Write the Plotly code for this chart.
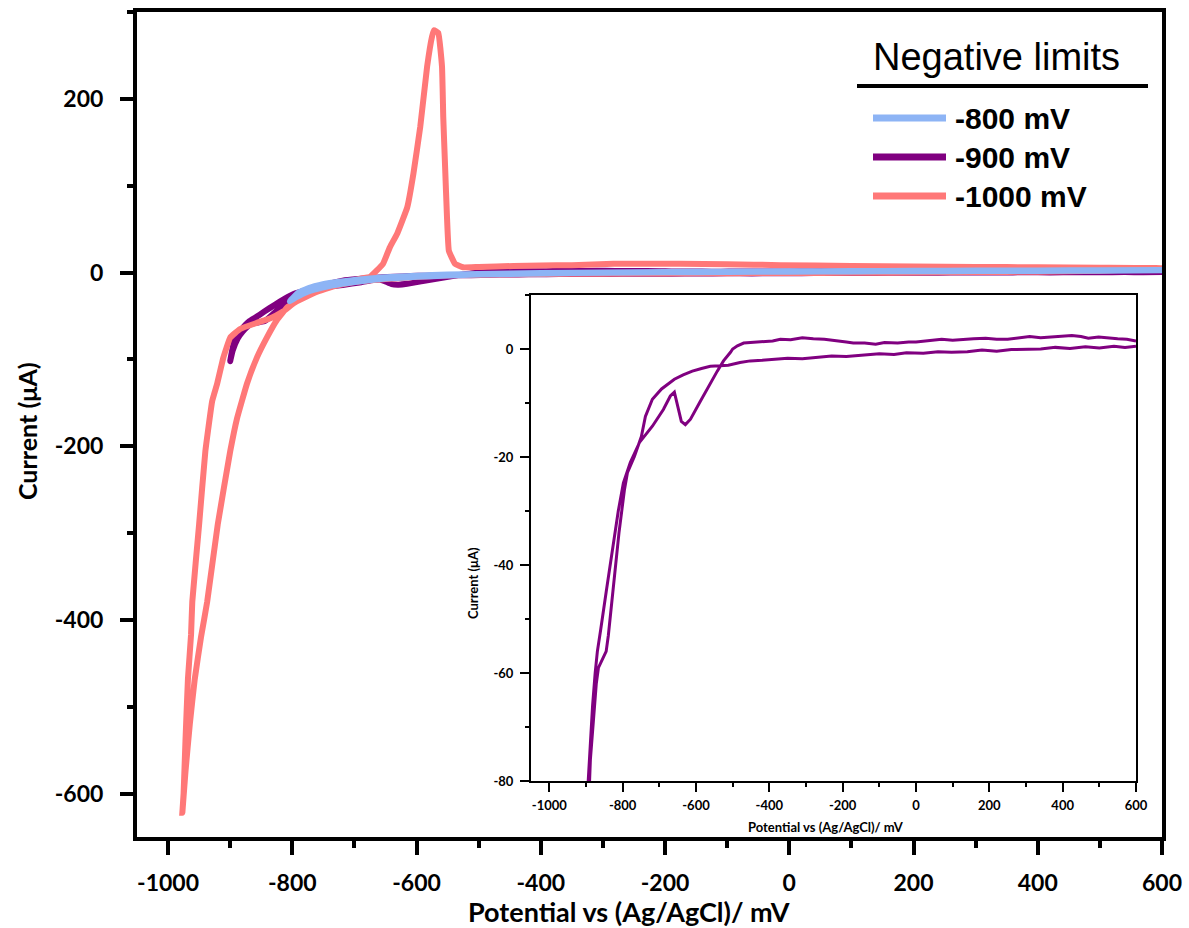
import plotly.graph_objects as go

# ---------------- data ----------------
names = ["-800 mV", "-900 mV", "-1000 mV"]
colors = ["#8DB4F5", "#800080", "#FF7878"]

# -800 mV negative limit
v800 = [600, 500, 400, 300, 200, 100, 0, -100, -200, -300, -400, -450, -500, -550, -600,
        -650, -700, -740, -770, -790, -804, -795, -775, -750, -720, -690, -650, -600, -550,
        -500, -450, -400, -300, -200, -100, 0, 100, 200, 300, 400, 500, 600]
i800 = [2.8, 2.6, 2.4, 2.2, 2.0, 1.7, 1.4, 1.0, 0.6, 0.0, -0.6, -1.0, -1.6, -2.4, -3.6,
        -5.5, -8.5, -12, -17, -23, -33, -29, -22, -17, -13, -10, -7, -5, -3.5,
        -2.4, -1.6, -1.0, -0.3, 0.2, 0.6, 0.9, 1.2, 1.5, 1.7, 1.9, 2.1, 2.4]

# -900 mV negative limit
v900 = [600, 575, 550, 525, 498, 470, 450, 425, 402, 370, 340, 310, 280, 250, 220, 190,
        157, 130, 100, 70, 37, 0, -20, -50, -86, -110, -140, -171, -190, -209, -250, -280,
        -310, -342, -370, -391, -420, -452, -470, -487, -500, -506, -515, -525, -542, -566,
        -590, -615, -629, -640, -651, -659, -670, -689, -719, -754, -779, -798, -812, -828,
        -845, -860, -869, -875, -882, -888, -894, -900,
        -896, -888, -880, -872, -866, -859, -852, -845, -839, -825, -810, -795, -787, -768,
        -749, -738, -719, -694, -675, -659, -635, -610, -585, -561, -535, -512, -480, -452,
        -420, -391, -350, -310, -269, -230, -190, -146, -100, -60, -26, 20, 60, 97, 140,
        180, 220, 260, 300, 340, 380, 420, 462, 500, 540, 570, 600]
i900 = [1.5, 1.8, 1.9, 2.1, 2.2, 2.0, 2.3, 2.5, 2.4, 2.2, 2.1, 2.3, 2.0, 1.8, 1.8, 2.0,
        1.9, 1.7, 1.6, 1.8, 1.5, 1.3, 1.3, 1.1, 1.2, 0.9, 1.1, 1.1, 1.3, 1.5, 1.8, 1.9,
        2.1, 1.7, 1.8, 1.5, 1.4, 1.3, 1.1, 0.6, 0.0, -0.6, -1.3, -2.2, -4.1, -6.9,
        -9.9, -13.0, -14.0, -13.4, -9.9, -8.0, -8.7, -11.2, -14.3, -17.3, -21.0, -24.8, -30, -37,
        -45, -52, -56, -60, -66, -73, -80, -102,
        -90, -76, -68, -62, -59, -58, -57, -56, -53, -44, -34, -26, -22.9, -19.9,
        -16.2, -12.5, -9.3, -7.4, -6.4, -5.6, -4.8, -4.1, -3.6, -3.2, -3.1, -3.0, -2.5, -2.2,
        -2.1, -1.9, -1.7, -1.8, -1.5, -1.3, -1.4, -1.1, -0.9, -1.0, -0.7, -0.8, -0.5, -0.6, -0.5,
        -0.2, -0.4, -0.1, 0.0, 0.0, 0.3, 0.1, 0.4, 0.2, 0.5, 0.3, 0.5]

# -1000 mV negative limit
v1000 = [600, 500, 400, 300, 200, 100, 0, -100, -200, -300, -400, -500, -560, -600, -650,
         -700, -750, -783, -808, -825, -841, -857, -873, -889, -900, -920, -937, -947, -957,
         -965, -972, -977, -975, -972, -968, -963, -961, -950, -940, -929, -921, -911, -900,
         -884, -857, -836, -815, -795, -760, -720, -690, -675, -654, -643, -631, -615, -605,
         -594, -583, -575, -572, -565, -559, -557, -554, -551, -548, -538, -525, -500, -444,
         -400, -350, -283, -230, -176, -100, -14, 100, 200, 300, 400, 500, 600]
i1000 = [5, 2, 1, 0.5, 0, -0.3, -0.5, -0.8, -1, -1.3, -1.7, -2.5, -3.5, -5, -7.5,
         -11, -18, -29, -40, -55, -75, -98, -128, -168, -206, -290, -379, -420, -468,
         -520, -575, -622, -600, -540, -468, -417, -379, -290, -206, -148, -128, -98, -75,
         -65, -58, -53, -45, -34, -22, -13, -7, -5, 10, 29, 45, 75, 114,
         168, 237, 272, 279, 276, 237, 179, 121, 64, 25, 10, 6, 6.5, 7.5,
         8, 8.5, 10, 10, 10, 9.5, 8.5, 7.5, 7, 6.5, 6, 5.5, 5]

x_ticks = [-1000, -800, -600, -400, -200, 0, 200, 400, 600]
y_ticks_main = [-600, -400, -200, 0, 200]
y_ticks_inset = [-80, -60, -40, -20, 0]
x_title = "Potential vs (Ag/AgCl)/ mV"
y_title = "Current (μA)"
legend_title = "Negative limits"

# ---------------- layout geometry ----------------
W, H = 1189, 928
L, R, T, B = 137, 27, 12, 91
PW, PH = W - L - R, H - T - B


def px(x):
    return (x - L) / PW


def py(y):
    return (H - B - y) / PH


fig = go.Figure()

series = [(v800, i800), (v900, i900), (v1000, i1000)]
draw_order = [1, 2, 0]
for k in draw_order:
    v, i = series[k]
    fig.add_trace(go.Scatter(x=v, y=i, mode="lines", name=names[k],
                             line=dict(color=colors[k], width=6, shape="spline", smoothing=0.3),
                             showlegend=False, xaxis="x", yaxis="y"))

# inset: -900 mV only
fig.add_trace(go.Scatter(x=v900, y=i900, mode="lines", name=names[1],
                         line=dict(color=colors[1], width=3),
                         showlegend=False, xaxis="x2", yaxis="y2"))

tickfont_main = dict(family="Lato", size=23, color="black", weight="bold")
tickfont_inset = dict(family="Lato", size=13, color="black", weight="bold")


def lbl(vals):
    return [str(v) for v in vals]


fig.update_layout(
    width=W, height=H,
    margin=dict(l=L, r=R, t=T, b=B, autoexpand=False),
    paper_bgcolor="white", plot_bgcolor="white",
    xaxis=dict(range=[-1050, 600], tickvals=x_ticks, ticktext=lbl(x_ticks),
               showgrid=False, zeroline=False, automargin=False,
               showline=True, linewidth=4, linecolor="black", mirror=True,
               ticks="outside", ticklen=14, tickwidth=4, tickcolor="black",
               minor=dict(dtick=100, tick0=-1000, ticks="outside", ticklen=7, tickwidth=4,
                          tickcolor="black", showgrid=False),
               tickfont=tickfont_main, ticklabelstandoff=8),
    yaxis=dict(range=[-650, 300], tickvals=y_ticks_main, ticktext=lbl(y_ticks_main),
               showgrid=False, zeroline=False, automargin=False,
               showline=True, linewidth=4, linecolor="black", mirror=True,
               ticks="outside", ticklen=13, tickwidth=4, tickcolor="black",
               minor=dict(dtick=100, tick0=0, ticks="outside", ticklen=6, tickwidth=4,
                          tickcolor="black", showgrid=False),
               tickfont=tickfont_main, ticklabelstandoff=12),
    xaxis2=dict(domain=[px(531), px(1136)], anchor="y2", range=[-1050, 600],
                tickvals=x_ticks, ticktext=lbl(x_ticks), showgrid=False, zeroline=False,
                automargin=False,
                showline=True, linewidth=2, linecolor="black", mirror=True,
                ticks="outside", ticklen=9, tickwidth=2, tickcolor="black",
                minor=dict(dtick=100, tick0=-1000, ticks="outside", ticklen=4, tickwidth=2,
                           tickcolor="black", showgrid=False),
                tickfont=tickfont_inset, ticklabelstandoff=2),
    yaxis2=dict(domain=[py(781), py(295)], anchor="x2", range=[-80, 10],
                tickvals=y_ticks_inset, ticktext=lbl(y_ticks_inset), showgrid=False,
                zeroline=False, automargin=False,
                showline=True, linewidth=2, linecolor="black", mirror=True,
                ticks="outside", ticklen=9, tickwidth=2, tickcolor="black",
                minor=dict(dtick=10, tick0=0, ticks="outside", ticklen=4, tickwidth=2,
                           tickcolor="black", showgrid=False),
                tickfont=tickfont_inset, ticklabelstandoff=4),
    showlegend=False,
)


def note(x, y, text, size, family="Lato", weight="bold", angle=0, xanchor="center"):
    fig.add_annotation(x=px(x), y=py(y), xref="paper", yref="paper", text=text,
                       showarrow=False, xanchor=xanchor, yanchor="middle", textangle=angle,
                       font=dict(family=family, size=size, color="black", weight=weight))


# main axis titles
note(629, 912, x_title, 27)
note(27, 431, y_title, 25, angle=-90)
# inset axis titles
note(826, 827, x_title, 13)
note(473, 583, y_title, 13, angle=-90)

# custom legend
note(996, 57, legend_title, 38, family="Liberation Sans, Arial", weight="normal")
fig.add_shape(type="line", xref="paper", yref="paper",
              x0=px(857), x1=px(1148), y0=py(86), y1=py(86),
              line=dict(color="black", width=4))
rows = [118, 157, 196]
for k, yy in enumerate(rows):
    fig.add_shape(type="line", xref="paper", yref="paper",
                  x0=px(873), x1=px(946), y0=py(yy), y1=py(yy),
                  line=dict(color=colors[k], width=7))
    note(953, yy, names[k], 30, family="Liberation Sans, Arial", xanchor="left")

fig.write_html("out.html", config={"displayModeBar": False},
               post_script="document.body.style.margin='0';document.body.style.overflow='hidden';")
